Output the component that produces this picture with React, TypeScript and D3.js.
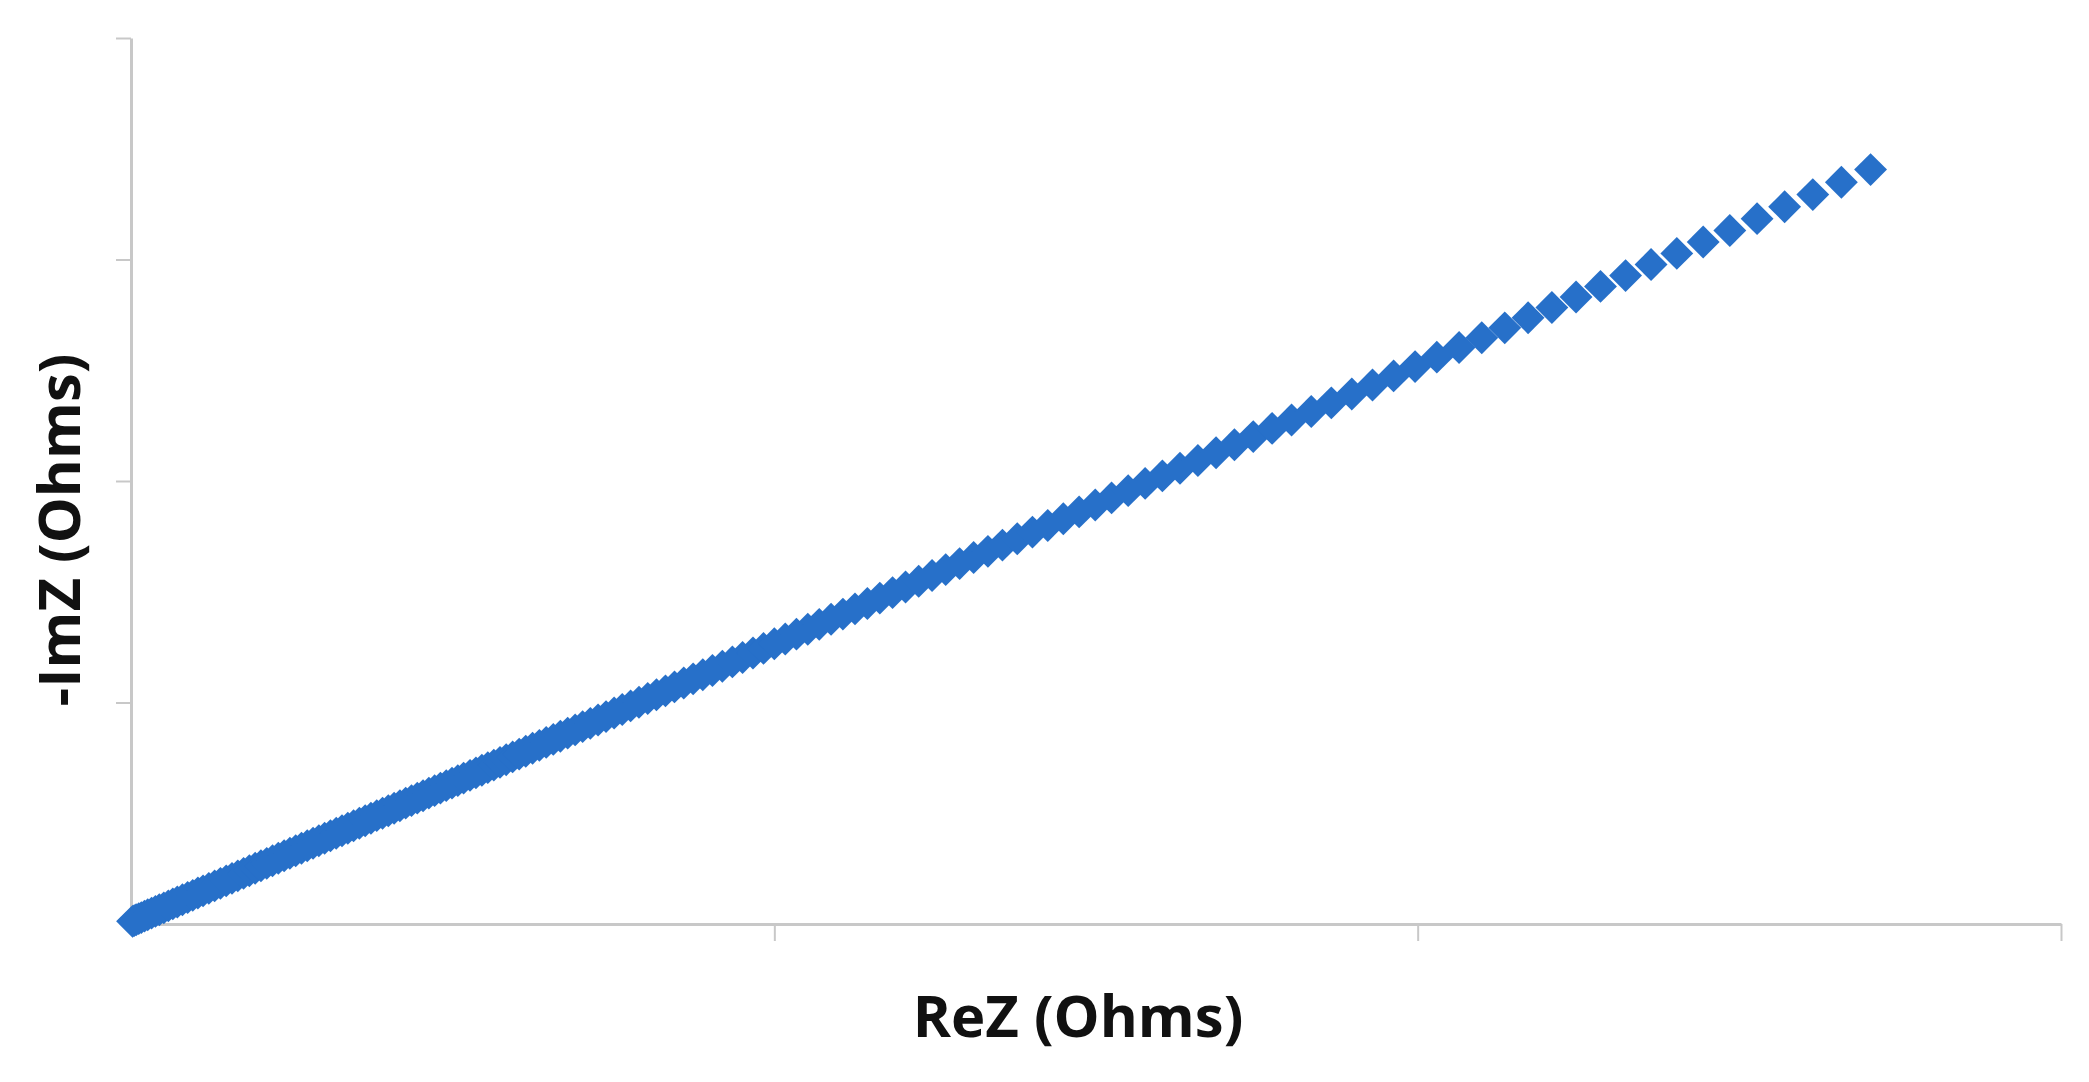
import React, { useEffect, useRef } from 'react';
import * as d3 from 'd3';

// ReZ values (Ohms)
const reZ: number[] = [
  1.2, 2.5, 4, 6, 8, 10.5, 13, 16, 19, 22, 25.5, 29, 32.5, 36, 40, 44, 48, 52, 56, 60.5,
  65, 69.5, 74, 78.5, 83, 87.5, 92, 96.5, 101, 105.5, 110, 114.5, 119, 123.5, 128, 132.5,
  137, 141.5, 146, 150.5, 155, 159.5, 164, 168.5, 173, 177.5, 182, 186.5, 191, 195.5, 200,
  204.5, 209, 213.5, 218, 222.5, 227, 231.5, 236, 240.5, 245, 249.5, 254, 258.5, 263.5,
  268.1, 272.7, 277.3, 282.0, 286.8, 291.6, 296.6, 301.7, 306.8, 312.1, 317.4, 322.7,
  328.2, 333.7, 339.4, 345.2, 351.0, 357.0, 363.0, 369.2, 375.5, 381.8, 388.3, 394.8,
  401.6, 408.4, 415.4, 422.4, 429.6, 436.9, 444.4, 451.9, 459.6, 467.4, 475.3, 483.4,
  491.6, 500.0, 508.5, 517.2, 526.0, 534.9, 544.1, 553.3, 562.7, 572.3, 582.0, 591.9,
  602.0, 612.2, 622.6, 633.2, 644.0, 654.9, 666.0, 677.3, 688.8, 700.6, 712.5, 724.6,
  736.9, 749.4, 762.1, 775.0, 788.2, 801.6, 815.3, 829.2, 843.3, 857.6, 872.2, 886.9,
  902.0, 917.3, 932.9, 948.8, 964.9, 981.3, 998.0, 1014.9, 1032.2, 1049.8, 1067.7,
  1085.8, 1104.3, 1123.1, 1142.1, 1161.6, 1181.4, 1201.4, 1221.9, 1242.6, 1263.8,
  1285.2, 1307.1, 1329.3, 1352.0,
];

// -ImZ values (Ohms), same order
const negImZ: number[] = [
  4.8, 6.1, 7.6, 9.6, 11.6, 14.2, 16.7, 19.7, 22.7, 25.7, 29.2, 32.7, 36.3, 39.8, 43.8,
  47.8, 51.8, 55.9, 59.9, 64.4, 68.9, 73.4, 78.0, 82.5, 87.0, 91.5, 96.1, 100.6, 105.1,
  109.6, 114.2, 118.7, 123.2, 127.7, 132.2, 136.8, 141.3, 145.8, 150.3, 154.9, 159.4,
  163.9, 168.4, 173.0, 177.5, 182.0, 186.5, 191.0, 195.6, 200.1, 204.6, 209.1, 213.6,
  218.2, 222.7, 227.2, 231.7, 236.3, 240.8, 245.3, 249.8, 254.3, 258.9, 263.4, 268.4,
  273.0, 277.7, 282.3, 287.0, 291.8, 296.7, 301.7, 306.8, 311.9, 317.3, 322.6, 327.9,
  333.4, 339.0, 344.7, 350.5, 356.4, 362.4, 368.4, 374.6, 381.0, 387.3, 393.8, 400.4,
  407.2, 414.0, 421.1, 428.1, 435.3, 442.7, 450.2, 457.8, 465.5, 473.3, 481.3, 489.4,
  497.7, 506.1, 514.6, 523.4, 532.2, 541.2, 550.4, 559.7, 569.1, 578.8, 588.5, 598.5,
  608.6, 618.9, 629.3, 640.0, 650.8, 661.8, 673.0, 684.3, 695.8, 707.7, 719.7, 731.8,
  744.2, 756.7, 769.5, 782.5, 795.7, 809.2, 823.0, 837.0, 851.1, 865.5, 880.2, 895.0,
  910.1, 925.5, 941.2, 957.1, 973.3, 989.8, 1006.6, 1023.6, 1041.0, 1058.6, 1076.6,
  1094.8, 1113.4, 1132.3, 1151.4, 1171.0, 1190.9, 1211.0, 1231.6, 1252.4, 1273.7,
  1295.2, 1317.2, 1339.5, 1362.4,
];

// axis ticks (no labels shown on the chart)
const xTicks = [0, 500, 1000, 1500];
const yTicks = [0, 400, 800, 1200, 1600];

const W = 2089;
const H = 1082;
const margin = { left: 131, right: 28, top: 38, bottom: 158 };

const App: React.FC = () => {
  const svgRef = useRef<SVGSVGElement>(null);

  useEffect(() => {
    const svg = d3.select(svgRef.current);
    svg.selectAll('*').remove();

    const x = d3.scaleLinear().domain([0, 1500]).range([margin.left, W - margin.right]);
    const y = d3.scaleLinear().domain([0, 1600]).range([H - margin.bottom, margin.top]);

    const axisColour = '#c8c8c8';

    // x axis
    const gx = svg.append('g')
      .attr('transform', `translate(0,${H - margin.bottom})`)
      .call(d3.axisBottom(x).tickValues(xTicks).tickSize(17).tickSizeOuter(0).tickFormat(() => ''));
    gx.select('.domain').attr('stroke', axisColour).attr('stroke-width', 3);
    gx.selectAll('.tick line').attr('stroke', axisColour).attr('stroke-width', 2);
    gx.selectAll('.tick').filter((d) => d === 0).remove();

    // y axis
    const gy = svg.append('g')
      .attr('transform', `translate(${margin.left},0)`)
      .call(d3.axisLeft(y).tickValues(yTicks).tickSize(15).tickSizeOuter(0).tickFormat(() => ''));
    gy.select('.domain').attr('stroke', axisColour).attr('stroke-width', 3);
    gy.selectAll('.tick line').attr('stroke', axisColour).attr('stroke-width', 2);
    gy.selectAll('.tick').filter((d) => d === 0).remove();

    // diamond markers: square rotated 45deg
    const marker = d3.symbol().type(d3.symbolSquare).size(540)();
    svg.append('g')
      .selectAll('path')
      .data(reZ.map((r, i) => [r, negImZ[i]]))
      .enter().append('path')
      .attr('d', marker)
      .attr('transform', (d) => `translate(${x(d[0])},${y(d[1])}) rotate(45)`)
      .attr('fill', '#2770c9');

    // axis titles
    svg.append('text')
      .attr('x', 1078)
      .attr('y', 1037)
      .attr('text-anchor', 'middle')
      .attr('font-family', '"Open Sans", sans-serif')
      .attr('font-weight', 700)
      .attr('font-size', 58)
      .attr('fill', '#111')
      .text('ReZ (Ohms)');

    svg.append('text')
      .attr('transform', 'translate(80,530) rotate(-90)')
      .attr('text-anchor', 'middle')
      .attr('font-family', '"Open Sans", sans-serif')
      .attr('font-weight', 700)
      .attr('font-size', 58)
      .attr('fill', '#111')
      .text('-ImZ (Ohms)');
  }, []);

  return (
    <svg
      ref={svgRef}
      width={W}
      height={H}
      style={{ position: 'absolute', left: 0, top: 0, background: '#fff' }}
    />
  );
};

export default App;
